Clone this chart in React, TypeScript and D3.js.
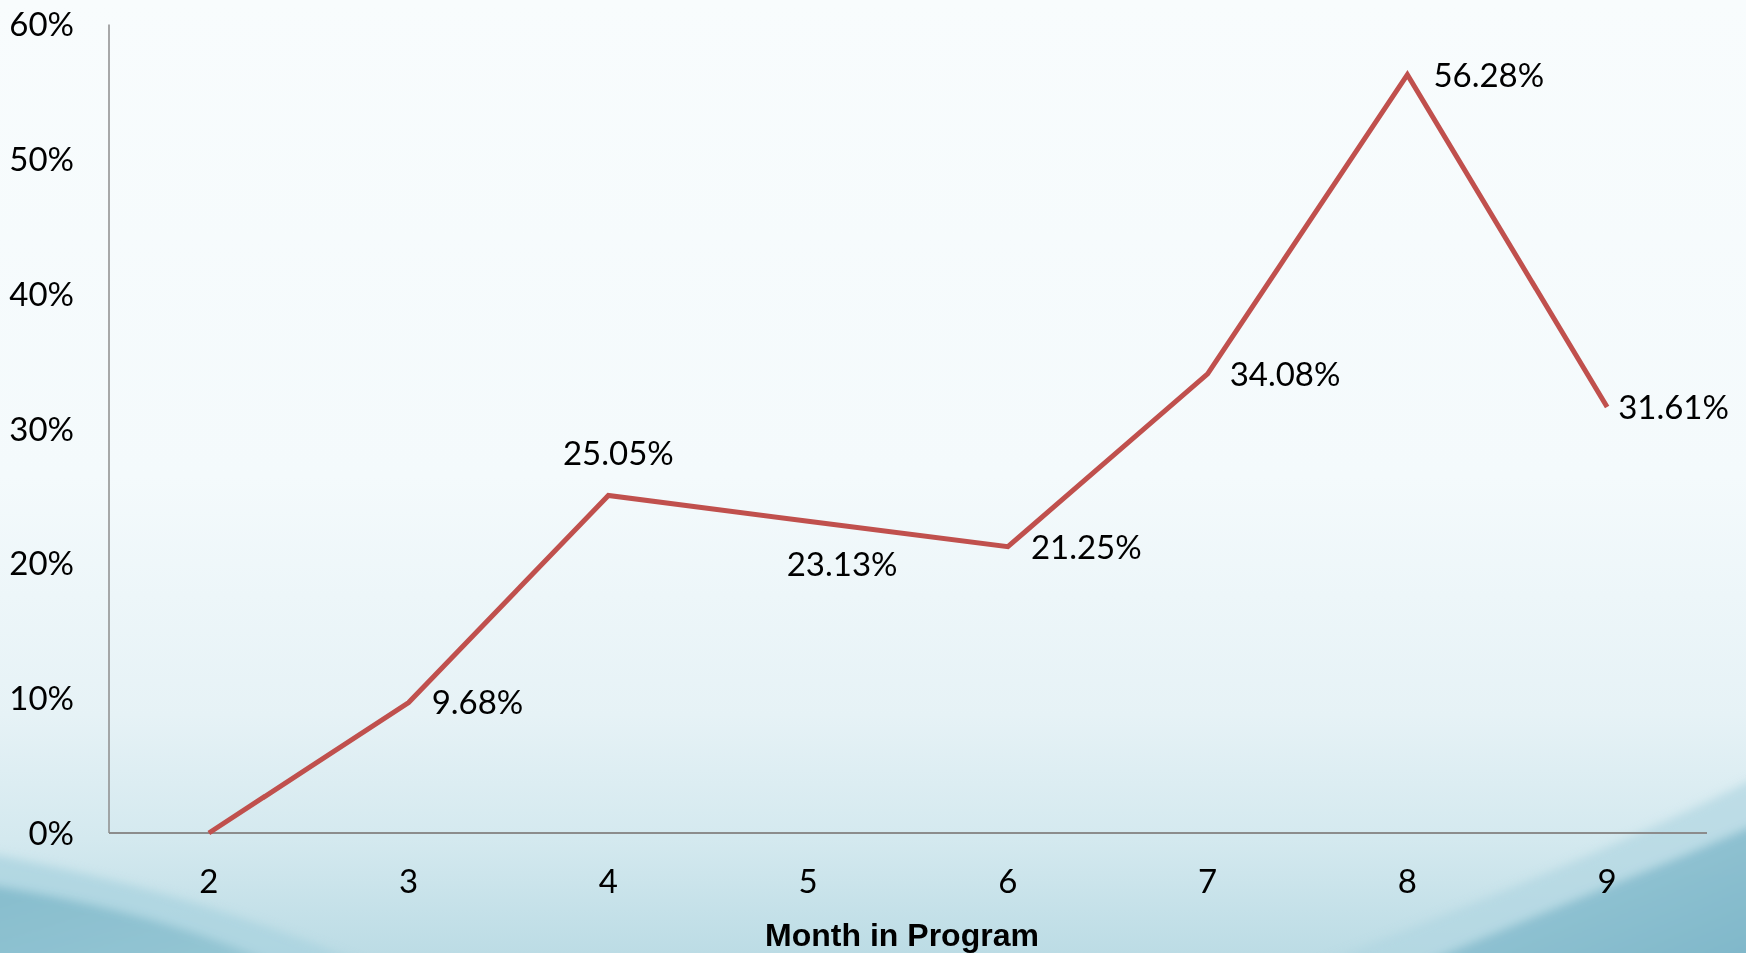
import React from "react";
import * as d3 from "d3";

// Share of participants by month in program
const months = ["2", "3", "4", "5", "6", "7", "8", "9"];
const shares = [0, 9.68, 25.05, 23.13, 21.25, 34.08, 56.28, 31.61];
const yTicks = [0, 10, 20, 30, 40, 50, 60];
const xTitle = "Month in Program";

// Where each value label sits relative to its point
type Placement = { anchor: "start" | "middle"; dx: number; dy: number } | null;
const labelPlacement: Placement[] = [
  null,
  { anchor: "start", dx: 23, dy: 0 },
  { anchor: "middle", dx: 10, dy: -42 },
  { anchor: "middle", dx: 34, dy: 43 },
  { anchor: "start", dx: 23, dy: 0 },
  { anchor: "start", dx: 22, dy: 0 },
  { anchor: "start", dx: 26, dy: 0 },
  { anchor: "start", dx: 11, dy: 0 },
];

const W = 1746;
const H = 953;
const plot = { left: 109, right: 1707, top: 24.5, bottom: 833 };
const FONT = "Lato, 'Open Sans', sans-serif";
const FS = 33;

export default function App() {
  const x = d3
    .scaleBand<string>()
    .domain(months)
    .range([plot.left, plot.right])
    .padding(0);
  const y = d3.scaleLinear().domain([0, 60]).range([plot.bottom, plot.top]);
  const cx = (m: string) => (x(m) as number) + x.bandwidth() / 2;

  const line = d3
    .line<number>()
    .x((_, i) => cx(months[i]))
    .y((v) => y(v));

  return (
    <svg
      width={W}
      height={H}
      viewBox={`0 0 ${W} ${H}`}
      style={{ position: "absolute", left: 0, top: 0, display: "block" }}
    >
      <defs>
        <linearGradient id="bg" x1="0" y1="0" x2="0" y2="1">
          <stop offset="0" stopColor="#F8FCFD" />
          <stop offset="0.5" stopColor="#F4FAFC" />
          <stop offset="0.75" stopColor="#E6F2F6" />
          <stop offset="0.88" stopColor="#D4E9EF" />
          <stop offset="1" stopColor="#BCDCE5" />
        </linearGradient>
        <linearGradient id="waveL" x1="0" y1="0" x2="1" y2="1">
          <stop offset="0" stopColor="#82BACB" />
          <stop offset="1" stopColor="#9CCAD7" />
        </linearGradient>
        <linearGradient id="waveR" x1="0" y1="0" x2="1" y2="1">
          <stop offset="0" stopColor="#A3CFDC" />
          <stop offset="1" stopColor="#74AFC3" />
        </linearGradient>
        <clipPath id="page">
          <rect x={0} y={0} width={W} height={H} />
        </clipPath>
        <filter id="soft" x="-20%" y="-20%" width="140%" height="140%">
          <feGaussianBlur stdDeviation="5" />
        </filter>
      </defs>

      {/* backdrop */}
      <rect x={0} y={0} width={W} height={H} fill="url(#bg)" />
      <g clipPath="url(#page)">
        <g filter="url(#soft)">
          <path
            d="M-60,845 C120,875 300,925 460,1010 L-60,1010 Z"
            fill="#AAD3DF"
            opacity={0.75}
          />
          <path
            d="M-60,878 C110,900 250,940 360,1010 L-60,1010 Z"
            fill="url(#waveL)"
            opacity={0.95}
          />
          <path
            d="M1810,750 C1640,840 1460,910 1200,1010 L1810,1010 Z"
            fill="#B0D6E1"
            opacity={0.7}
          />
          <path
            d="M1810,800 C1660,870 1500,925 1320,1010 L1810,1010 Z"
            fill="url(#waveR)"
            opacity={0.95}
          />
        </g>
      </g>

      {/* axes */}
      <line
        x1={plot.left}
        x2={plot.left}
        y1={plot.top}
        y2={plot.bottom}
        stroke="#8C8C8C"
        strokeWidth={1.5}
      />
      <line
        x1={plot.left}
        x2={plot.right}
        y1={plot.bottom}
        y2={plot.bottom}
        stroke="#8C8C8C"
        strokeWidth={1.8}
      />

      {yTicks.map((t) => (
        <text
          key={t}
          x={74}
          y={y(t)}
          dy="0.36em"
          textAnchor="end"
          fontFamily={FONT}
          fontSize={FS}
          fill="#000"
        >
          {`${t}%`}
        </text>
      ))}

      {months.map((m) => (
        <text
          key={m}
          x={cx(m)}
          y={881}
          dy="0.36em"
          textAnchor="middle"
          fontFamily={FONT}
          fontSize={FS}
          fill="#000"
        >
          {m}
        </text>
      ))}

      <text
        x={902}
        y={934}
        dy="0.36em"
        textAnchor="middle"
        fontFamily="'Liberation Sans', Arial, sans-serif"
        fontWeight="bold"
        fontSize={32}
        fill="#000"
      >
        {xTitle}
      </text>

      {/* series */}
      <path
        d={line(shares) ?? ""}
        fill="none"
        stroke="#C0504D"
        strokeWidth={5}
        strokeLinejoin="miter"
      />

      {shares.map((v, i) => {
        const p = labelPlacement[i];
        if (!p) return null;
        return (
          <text
            key={months[i]}
            x={cx(months[i]) + p.dx}
            y={y(v) + p.dy}
            dy="0.36em"
            textAnchor={p.anchor}
            fontFamily={FONT}
            fontSize={FS}
            fill="#000"
          >
            {`${v.toFixed(2)}%`}
          </text>
        );
      })}
    </svg>
  );
}
